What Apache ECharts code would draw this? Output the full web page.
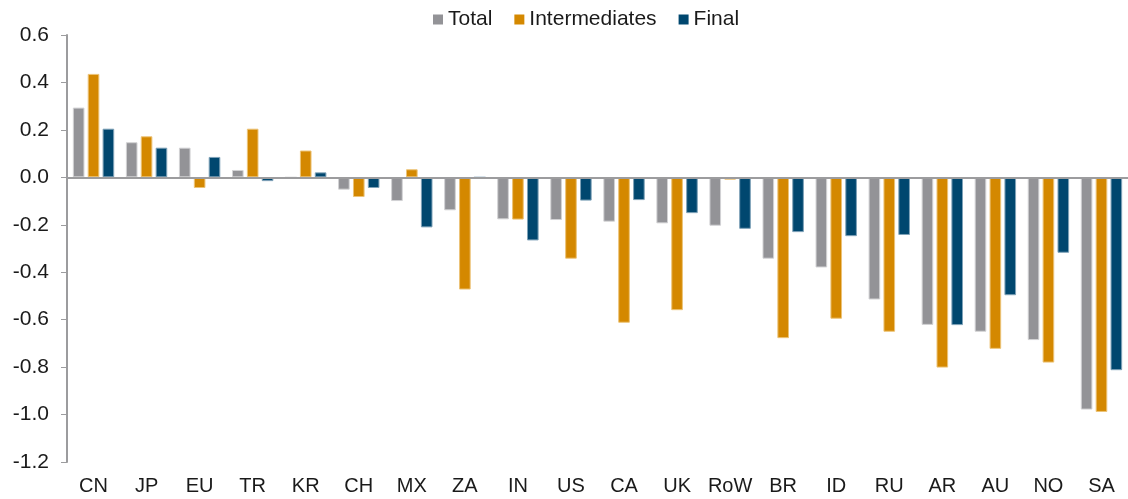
<!DOCTYPE html>
<html>
<head>
<meta charset="utf-8">
<script src="https://cdn.jsdelivr.net/npm/echarts@6/dist/echarts.min.js"></script>
<style>
  html, body { margin: 0; padding: 0; background: #fff; }
  #chart { width: 1128px; height: 499px; }
</style>
</head>
<body>
<div id="chart"></div>
<script>
var categories = ['CN', 'JP', 'EU', 'TR', 'KR', 'CH', 'MX', 'ZA', 'IN', 'US', 'CA', 'UK', 'RoW', 'BR', 'ID', 'RU', 'AR', 'AU', 'NO', 'SA'];
var total = [0.294, 0.148, 0.125, 0.031, 0.0, -0.052, -0.100, -0.139, -0.177, -0.180, -0.187, -0.194, -0.204, -0.343, -0.380, -0.515, -0.622, -0.651, -0.686, -0.979];
var intermediates = [0.436, 0.173, -0.045, 0.205, 0.113, -0.083, 0.034, -0.473, -0.178, -0.343, -0.613, -0.560, -0.010, -0.678, -0.596, -0.651, -0.802, -0.723, -0.781, -0.989];
var finalDemand = [0.205, 0.125, 0.086, -0.016, 0.021, -0.045, -0.211, 0.0, -0.266, -0.098, -0.096, -0.151, -0.217, -0.231, -0.248, -0.243, -0.623, -0.497, -0.318, -0.813];

var font = 'Liberation Sans, Arial, sans-serif';
var chart = echarts.init(document.getElementById('chart'), null, { renderer: 'canvas' });

function barSeries(name, data, color, border) {
  return {
    name: name,
    type: 'bar',
    data: data,
    barGap: '28%',
    barCategoryGap: '22%',
    itemStyle: { color: color, borderColor: border, borderWidth: 1 }
  };
}

var series = [
  barSeries('Total', total, '#939397', '#d2d2d4'),
  barSeries('Intermediates', intermediates, '#d48800', '#ecc377'),
  barSeries('Final', finalDemand, '#00476f', '#7fa2b8')
];
// zero line
series[0].markLine = {
  silent: true,
  symbol: 'none',
  label: { show: false },
  lineStyle: { color: '#9c9c9e', width: 2, type: 'solid' },
  data: [{ yAxis: 0 }]
};

chart.setOption({
  animation: false,
  backgroundColor: '#ffffff',
  textStyle: { fontFamily: font },
  legend: {
    left: 433,
    top: 9,
    padding: 0,
    itemWidth: 10,
    itemHeight: 10,
    itemGap: 22,
    icon: 'rect',
    itemStyle: { borderWidth: 0 },
    textStyle: { fontFamily: font, fontSize: 21, color: '#1a1a1a' },
    data: ['Total', 'Intermediates', 'Final']
  },
  grid: {
    left: 67,
    right: -9,
    top: 35,
    bottom: 37,
    containLabel: false
  },
  xAxis: {
    type: 'category',
    data: categories,
    axisLine: { show: false, onZero: false },
    axisTick: { show: false },
    axisLabel: { interval: 0, fontFamily: font, fontSize: 20, color: '#1a1a1a', margin: 14 },
    splitLine: { show: false }
  },
  yAxis: {
    type: 'value',
    min: -1.2,
    max: 0.6,
    interval: 0.2,
    axisLine: { show: true, lineStyle: { color: '#9c9c9e', width: 2 } },
    axisTick: { show: true, length: 6, lineStyle: { color: '#9c9c9e', width: 1 } },
    axisLabel: {
      fontFamily: font,
      fontSize: 21,
      color: '#1a1a1a',
      margin: 18,
      formatter: function (v) { return (Math.round(v * 10) / 10).toFixed(1); }
    },
    splitLine: { show: false }
  },
  series: series
});
</script>
</body>
</html>
